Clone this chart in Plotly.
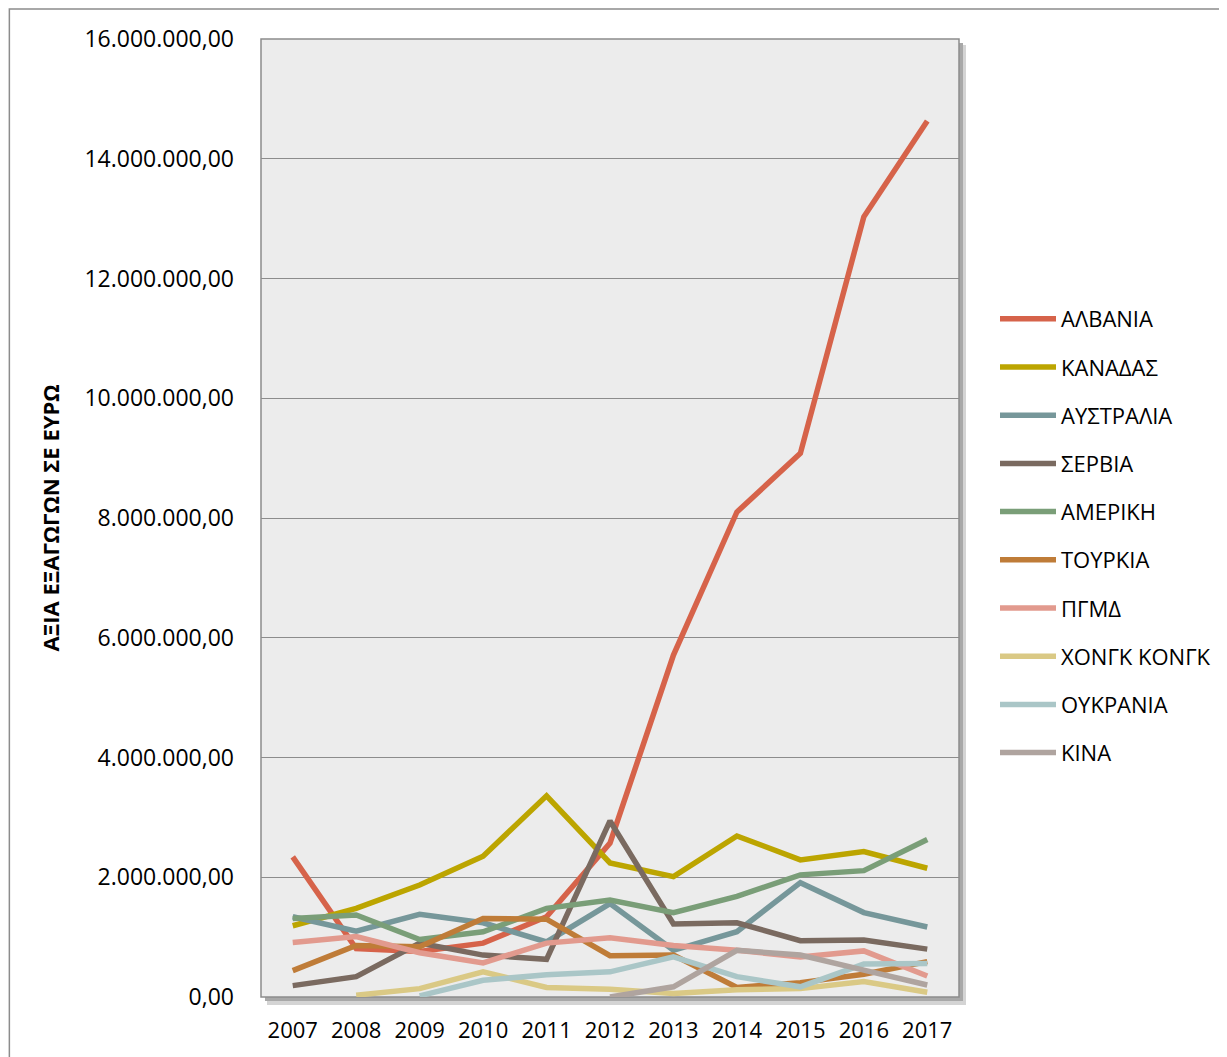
import plotly.graph_objects as go

years = ["2007", "2008", "2009", "2010", "2011", "2012", "2013", "2014", "2015", "2016", "2017"]

albania   = [2340000, 810000, 760000, 900000, 1340000, 2570000, 5710000, 8100000, 9080000, 13030000, 14630000]
kanadas   = [1190000, 1480000, 1870000, 2350000, 3360000, 2240000, 2010000, 2690000, 2290000, 2430000, 2150000]
australia = [1340000, 1100000, 1380000, 1240000, 920000, 1560000, 780000, 1090000, 1910000, 1410000, 1170000]
serbia    = [190000, 340000, 900000, 700000, 630000, 2940000, 1220000, 1240000, 940000, 950000, 800000]
ameriki   = [1310000, 1370000, 960000, 1090000, 1480000, 1620000, 1410000, 1680000, 2040000, 2110000, 2630000]
tourkia   = [440000, 860000, 840000, 1310000, 1300000, 690000, 700000, 160000, 240000, 380000, 590000]
pgmd      = [910000, 1010000, 740000, 570000, 900000, 990000, 860000, 780000, 670000, 770000, 350000]
hongkong  = [None, 30000, 140000, 420000, 160000, 130000, 60000, 120000, 140000, 260000, 80000]
oukrania  = [None, None, 20000, 280000, 370000, 420000, 670000, 340000, 170000, 550000, 560000]
kina      = [None, None, None, None, None, 0, 170000, 780000, 700000, 450000, 200000]

series_names = ["ΑΛΒΑΝΙΑ", "ΚΑΝΑΔΑΣ", "ΑΥΣΤΡΑΛΙΑ", "ΣΕΡΒΙΑ", "ΑΜΕΡΙΚΗ", "ΤΟΥΡΚΙΑ",
                "ΠΓΜΔ", "ΧΟΝΓΚ ΚΟΝΓΚ", "ΟΥΚΡΑΝΙΑ", "ΚΙΝΑ"]
series_values = [albania, kanadas, australia, serbia, ameriki, tourkia,
                 pgmd, hongkong, oukrania, kina]
colors = ["#D6634A", "#BCA500", "#76979A", "#7A6A60", "#7A9E78", "#BF7C38",
          "#E29A8E", "#DAC985", "#AAC6C7", "#AFA49F"]

y_ticks = [0, 2000000, 4000000, 6000000, 8000000, 10000000, 12000000, 14000000, 16000000]
y_tick_labels = ["0,00", "2.000.000,00", "4.000.000,00", "6.000.000,00", "8.000.000,00",
                 "10.000.000,00", "12.000.000,00", "14.000.000,00", "16.000.000,00"]

fig = go.Figure()
for i, (name, vals, col) in enumerate(zip(series_names, series_values, colors)):
    fig.add_trace(go.Scatter(
        x=years, y=vals, name=name, mode="lines",
        line=dict(color=col, width=5.5), legendgroup=f"g{i}",
        connectgaps=False,
    ))

# page has an ~8px body offset; compensate so the figure lands where the reference is
OFF = 8
W, H = 1227 - OFF, 1057 - OFF
L, R, T, B = 261 - OFF, 960 - OFF, 39 - OFF, 997 - OFF
pw, ph = R - L, B - T

def px_x(px):
    return (px - OFF - L) / pw

def px_y(py):
    return (B - (py - OFF)) / ph

shapes = [
    # outer border
    dict(type="rect", xref="paper", yref="paper", layer="below",
         x0=px_x(9), x1=px_x(1240), y0=px_y(1070), y1=px_y(9),
         line=dict(color="#8c8c8c", width=1.5), fillcolor="white"),
    # shadow
    dict(type="rect", xref="paper", yref="paper", layer="below",
         x0=px_x(261 + 6), x1=px_x(960 + 7), y0=px_y(997 + 8), y1=px_y(39 + 6),
         line=dict(width=0), fillcolor="#d4d4d4"),
    dict(type="rect", xref="paper", yref="paper", layer="below",
         x0=px_x(261 + 4), x1=px_x(960 + 4), y0=px_y(997 + 4), y1=px_y(39 + 4),
         line=dict(width=0), fillcolor="#a8a8a8"),
    # plot background
    dict(type="rect", xref="paper", yref="paper", layer="below",
         x0=0, x1=1, y0=0, y1=1,
         line=dict(color="#8c8c8c", width=1.5), fillcolor="#ececec"),
]

fig.update_layout(
    width=W, height=H,
    margin=dict(l=L, r=W - R, t=T, b=H - B, pad=0),
    paper_bgcolor="white",
    plot_bgcolor="rgba(0,0,0,0)",
    font=dict(family="Open Sans, Noto Sans, sans-serif", color="black"),
    shapes=shapes,
    showlegend=True,
    legend=dict(
        x=px_x(995), y=px_y(298), xanchor="left", yanchor="top",
        font=dict(size=22, color="black"),
        tracegroupgap=16.6, itemwidth=56,
        bgcolor="rgba(0,0,0,0)",
    ),
    xaxis=dict(
        type="category", range=[-0.5, 10.5],
        showgrid=False, zeroline=False, ticks="",
        showline=False,
        tickfont=dict(size=22),
        ticklabelstandoff=18,
    ),
    yaxis=dict(
        range=[0, 16000000],
        tickvals=y_ticks, ticktext=y_tick_labels,
        showgrid=True, gridcolor="#8c8c8c", gridwidth=1.2,
        zeroline=False, showline=False, ticks="",
        tickfont=dict(size=23),
        ticklabelstandoff=26,
        title=dict(text="<b>ΑΞΙΑ ΕΞΑΓΩΓΩΝ ΣΕ ΕΥΡΩ</b>", font=dict(size=22), standoff=18),
    ),
)

fig.write_html("out.html")
